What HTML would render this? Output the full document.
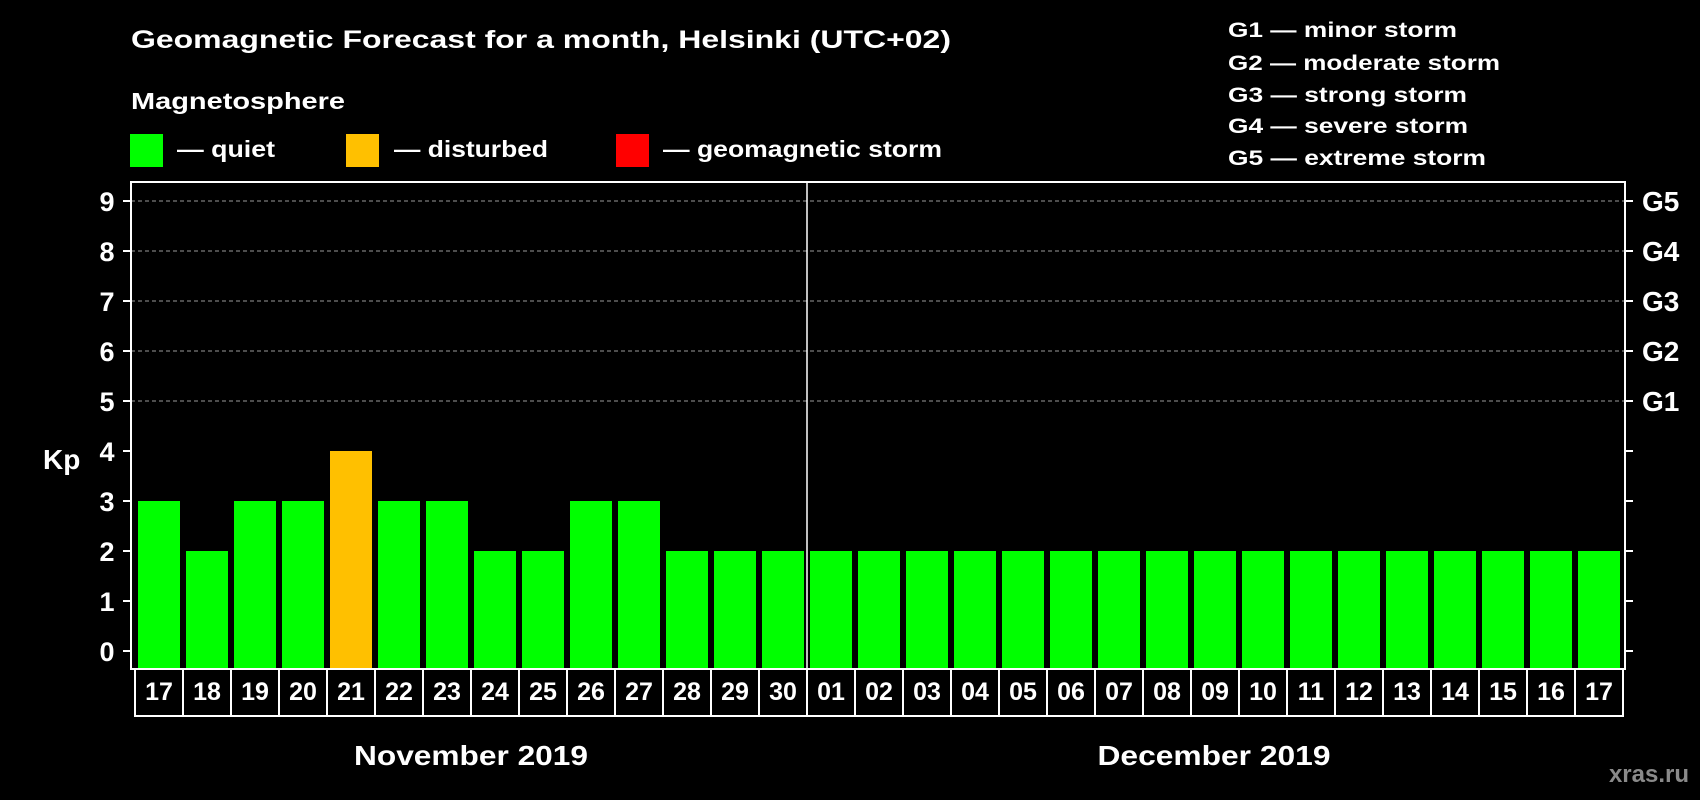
<!DOCTYPE html>
<html><head><meta charset="utf-8"><style>
html,body{margin:0;padding:0;background:#000;}
svg{display:block;font-family:"Liberation Sans",Arial,sans-serif;font-weight:bold;}
</style></head><body>
<svg id="chart" width="1700" height="800" xmlns="http://www.w3.org/2000/svg">
<rect x="0" y="0" width="1700" height="800" fill="#000"/>
<text x="131" y="48" fill="#fff" font-size="25" textLength="820" lengthAdjust="spacingAndGlyphs">Geomagnetic Forecast for a month, Helsinki (UTC+02)</text>
<text x="131" y="109" fill="#fff" font-size="23" textLength="214" lengthAdjust="spacingAndGlyphs">Magnetosphere</text>
<g>
<rect x="130" y="134" width="33" height="33" fill="#00ff00"/>
<text x="177" y="157" fill="#fff" font-size="23" textLength="98" lengthAdjust="spacingAndGlyphs">— quiet</text>
</g>
<g>
<rect x="346" y="134" width="33" height="33" fill="#ffc000"/>
<text x="394" y="157" fill="#fff" font-size="23" textLength="154" lengthAdjust="spacingAndGlyphs">— disturbed</text>
</g>
<g>
<rect x="616" y="134" width="33" height="33" fill="#ff0000"/>
<text x="663" y="157" fill="#fff" font-size="23" textLength="279" lengthAdjust="spacingAndGlyphs">— geomagnetic storm</text>
</g>
<g fill="#fff" font-size="21">
<text x="1228" y="37" textLength="229" lengthAdjust="spacingAndGlyphs">G1 — minor storm</text>
<text x="1228" y="70" textLength="272" lengthAdjust="spacingAndGlyphs">G2 — moderate storm</text>
<text x="1228" y="102" textLength="239" lengthAdjust="spacingAndGlyphs">G3 — strong storm</text>
<text x="1228" y="133" textLength="240" lengthAdjust="spacingAndGlyphs">G4 — severe storm</text>
<text x="1228" y="165" textLength="258" lengthAdjust="spacingAndGlyphs">G5 — extreme storm</text>
</g>
<text x="43" y="469" fill="#fff" font-size="28">Kp</text>
<g id="grid"></g>
<g id="bars"></g>
<g id="xaxis"></g>
<rect x="131" y="182" width="1494" height="487" fill="none" stroke="#fff" stroke-width="2"/>
<line x1="807" y1="182" x2="807" y2="669" stroke="#fff" stroke-width="1.5"/>
<text x="471" y="765" fill="#fff" font-size="28" text-anchor="middle" textLength="234" lengthAdjust="spacingAndGlyphs">November 2019</text>
<text x="1214" y="765" fill="#fff" font-size="28" text-anchor="middle" textLength="233" lengthAdjust="spacingAndGlyphs">December 2019</text>
<text x="1689" y="782" fill="#8a8a8a" font-size="24" text-anchor="end">xras.ru</text>
</svg>
<script>
const days = ["17","18","19","20","21","22","23","24","25","26","27","28","29","30","01","02","03","04","05","06","07","08","09","10","11","12","13","14","15","16","17"];
const kpValues = [3,2,3,3,4,3,3,2,2,3,3,2,2,2,2,2,2,2,2,2,2,2,2,2,2,2,2,2,2,2,2];
const yTicks = [0,1,2,3,4,5,6,7,8,9];
const gLabels = ["G1","G2","G3","G4","G5"];
const gLevels = [5,6,7,8,9];

const NS = "http://www.w3.org/2000/svg";
const y0 = 651, unit = 50;
const plotBottom = 669;
function yScale(v){ return y0 - v*unit; }
const boxLeft = 135, step = 48;
function xBox(i){ return boxLeft + i*step; }
function colorFor(v){ return v>=5 ? "#ff0000" : (v>=4 ? "#ffc000" : "#00ff00"); }
function mk(tag, attrs, parent){ const e=document.createElementNS(NS,tag); for(const k in attrs) e.setAttribute(k,attrs[k]); parent.appendChild(e); return e; }

const grid = document.getElementById("grid");
yTicks.forEach(v=>{
  const y = yScale(v);
  if (v>=5){
    const gl = mk("line",{x1:131,x2:1625,y1:y,y2:y,stroke:"#9a9a9a","stroke-width":1,"stroke-dasharray":"4,3"},grid);
    
    
  }
  const tl = mk("line",{x1:123,x2:131,y1:y,y2:y,stroke:"#fff","stroke-width":2},grid);
  
  
  const tr = mk("line",{x1:1625,x2:1633,y1:y,y2:y,stroke:"#fff","stroke-width":2},grid);
  
  
  const t = mk("text",{x:107,y:y+10,fill:"#fff","font-size":27,"text-anchor":"middle"},grid);
  t.textContent = v;
  
  
});
gLabels.forEach((g,i)=>{
  const t = mk("text",{x:1642,y:yScale(gLevels[i])+10,fill:"#fff","font-size":28},grid);
  t.textContent = g;
  
  
});

const bars = document.getElementById("bars");
kpValues.forEach((v,i)=>{
  const top = yScale(v);
  const r = mk("rect",{x:xBox(i)+3,y:top,width:42,height:plotBottom-top,fill:colorFor(v)},bars);
  
  
});

const xa = document.getElementById("xaxis");
days.forEach((d,i)=>{
  const b = mk("rect",{x:xBox(i),y:plotBottom,width:step,height:47,fill:"none",stroke:"#fff","stroke-width":2},xa);
  
  
  const t = mk("text",{x:xBox(i)+step/2,y:700,fill:"#fff","font-size":25,"text-anchor":"middle"},xa);
  t.textContent = d;
  
  
});
</script>
</body></html>
